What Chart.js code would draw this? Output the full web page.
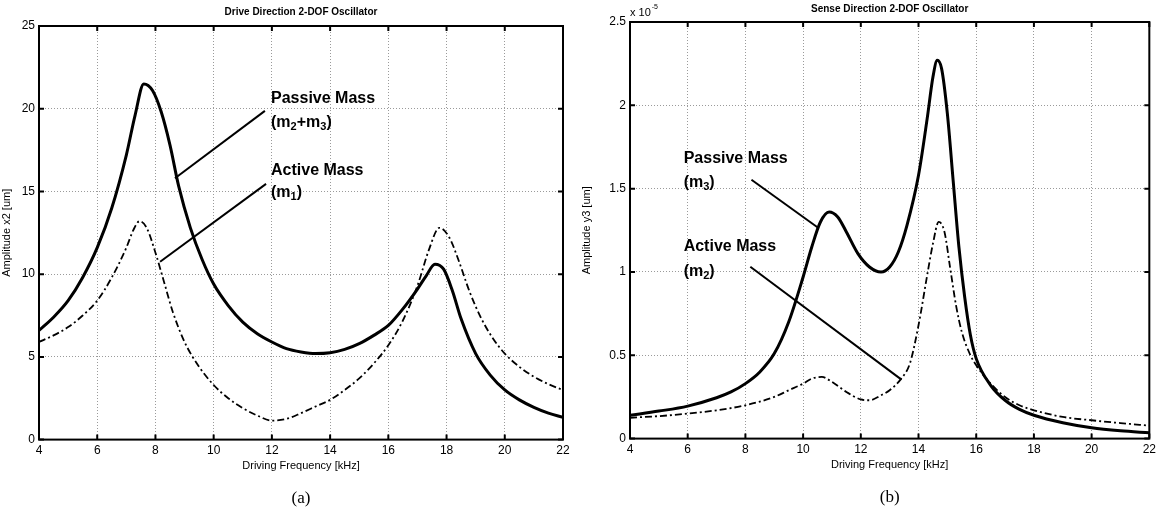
<!DOCTYPE html>
<html lang="en">
<head>
<meta charset="UTF-8">
<title>2-DOF Oscillator</title>
<script src="https://cdn.jsdelivr.net/npm/chart.js"></script>
<style>
  body { margin: 0; background: #fff; }
  .panel { position: absolute; top: 0; width: 580px; height: 516px; }
</style>
</head>
<body>
<div class="panel" style="left:0"><canvas id="driveChart"></canvas></div>
<div class="panel" style="left:580px"><canvas id="senseChart"></canvas></div>
<script>
// (a) drive direction, amplitude x2 [um]
const driveFreqPassive = [4, 4.5, 5, 5.5, 6, 6.5, 7, 7.3, 7.6, 7.9, 8.2, 8.5, 8.8, 9.2, 9.6, 10, 10.5, 11, 11.5, 12, 12.5, 13, 13.5, 14, 14.5, 15, 15.5, 16, 16.5, 17, 17.3, 17.6, 17.9, 18.2, 18.5, 19, 19.5, 20, 20.5, 21, 21.5, 22];
const drivePassive = [6.6, 7.4, 8.4, 9.8, 11.6, 14.0, 17.2, 19.6, 21.5, 21.1, 19.8, 17.8, 15.3, 12.8, 10.9, 9.4, 8.1, 7.1, 6.4, 5.9, 5.5, 5.3, 5.2, 5.25, 5.45, 5.8, 6.3, 6.9, 7.9, 9.1, 9.9, 10.6, 10.3, 9.0, 7.3, 5.2, 3.9, 3.0, 2.4, 1.95, 1.6, 1.35];
const driveFreqActive = [4, 4.5, 5, 5.5, 6, 6.5, 7, 7.25, 7.45, 7.7, 8, 8.3, 8.6, 9, 9.5, 10, 10.5, 11, 11.5, 12, 12.5, 13, 13.5, 14, 14.5, 15, 15.5, 16, 16.5, 17, 17.4, 17.75, 18.1, 18.4, 18.8, 19.2, 19.6, 20, 20.5, 21, 21.5, 22];
const driveActive = [5.9, 6.3, 6.8, 7.5, 8.4, 9.8, 11.6, 12.7, 13.2, 12.8, 11.3, 9.5, 7.7, 5.9, 4.4, 3.3, 2.5, 1.9, 1.45, 1.15, 1.25, 1.6, 2.0, 2.4, 3.0, 3.7, 4.6, 5.7, 7.2, 9.3, 11.5, 12.8, 12.2, 10.9, 8.9, 7.3, 6.1, 5.2, 4.4, 3.8, 3.35, 3.0];

// (b) sense direction, amplitude y3 [um], in units of 1e-5
const senseFreqPassive = [4, 5, 6, 7, 7.5, 8, 8.5, 9, 9.5, 10, 10.3, 10.6, 10.9, 11.2, 11.5, 11.9, 12.3, 12.7, 13, 13.3, 13.6, 14, 14.3, 14.5, 14.65, 14.8, 15, 15.2, 15.4, 15.6, 15.8, 16, 16.5, 17, 17.5, 18, 19, 20, 21, 22];
const sensePassive = [0.14, 0.165, 0.195, 0.245, 0.28, 0.33, 0.40, 0.51, 0.70, 0.97, 1.15, 1.30, 1.36, 1.33, 1.24, 1.11, 1.03, 1.0, 1.03, 1.12, 1.28, 1.58, 1.92, 2.17, 2.27, 2.22, 1.95, 1.55, 1.15, 0.85, 0.62, 0.48, 0.32, 0.23, 0.175, 0.14, 0.095, 0.065, 0.047, 0.035];
const senseFreqActive = [4, 5, 6, 7, 8, 9, 9.5, 10, 10.3, 10.65, 11, 11.5, 12, 12.3, 12.7, 13, 13.4, 13.7, 14, 14.3, 14.5, 14.7, 14.9, 15.1, 15.3, 15.5, 15.8, 16, 16.5, 17, 17.5, 18, 19, 20, 21, 22];
const senseActive = [0.125, 0.135, 0.15, 0.17, 0.2, 0.25, 0.29, 0.33, 0.36, 0.37, 0.34, 0.28, 0.235, 0.23, 0.26, 0.29, 0.36, 0.45, 0.68, 0.98, 1.17, 1.3, 1.24, 1.02, 0.80, 0.64, 0.50, 0.44, 0.33, 0.25, 0.2, 0.17, 0.13, 0.11, 0.093, 0.078];

// callout lines [x1, y1, x2, y2] and labels, in data units
const driveCalloutLines = [[8.67, 15.8, 11.76, 19.87], [8.16, 10.75, 11.8, 15.46]];
const driveCalloutLabels = [
  { x: 11.97, y: 20.59, parts: [['Passive Mass']] },
  { x: 11.97, y: 19.14, parts: [['(m'], ['2', 'sub'], ['+m'], ['3', 'sub'], [')']] },
  { x: 11.97, y: 16.24, parts: [['Active Mass']] },
  { x: 11.97, y: 14.92, parts: [['(m'], ['1', 'sub'], [')']] }
];
const senseCalloutLines = [[8.21, 1.553, 10.52, 1.265], [8.17, 1.031, 13.41, 0.354]];
const senseCalloutLabels = [
  { x: 5.86, y: 1.679, parts: [['Passive Mass']] },
  { x: 5.86, y: 1.535, parts: [['(m'], ['3', 'sub'], [')']] },
  { x: 5.86, y: 1.151, parts: [['Active Mass']] },
  { x: 5.86, y: 1.001, parts: [['(m'], ['2', 'sub'], [')']] }
];

const SANS = "'Liberation Sans', Arial, sans-serif";
const SERIF = "'Liberation Serif', 'Times New Roman', serif";

function toPoints(xs, ys) {
  return xs.map((x, i) => ({ x: x, y: ys[i] }));
}

// box round the plot with inward ticks on all four sides
const framePlugin = {
  id: 'frame',
  afterDraw(chart, args, opts) {
    const { ctx, chartArea: a, scales: { x, y } } = chart;
    ctx.save();
    ctx.strokeStyle = '#000';
    ctx.lineWidth = 2;
    ctx.strokeRect(a.left, a.top, a.width, a.height);
    const len = 5;
    ctx.beginPath();
    x.ticks.forEach(t => {
      const px = x.getPixelForValue(t.value);
      ctx.moveTo(px, a.bottom); ctx.lineTo(px, a.bottom - len);
      ctx.moveTo(px, a.top); ctx.lineTo(px, a.top + len);
    });
    y.ticks.forEach(t => {
      const py = y.getPixelForValue(t.value);
      ctx.moveTo(a.left, py); ctx.lineTo(a.left + len, py);
      ctx.moveTo(a.right, py); ctx.lineTo(a.right - len, py);
    });
    ctx.stroke();
    if (opts.exponent) {
      ctx.fillStyle = '#000';
      ctx.textBaseline = 'middle';
      ctx.font = '11px ' + SANS;
      ctx.fillText('x 10', a.left, a.top - 9);
      const w = ctx.measureText('x 10').width;
      ctx.font = '7px ' + SANS;
      ctx.fillText(opts.exponent, a.left + w + 1, a.top - 15);
    }
    ctx.restore();
  }
};

// label lines and bold text with subscripts
const calloutPlugin = {
  id: 'callouts',
  afterDatasetsDraw(chart, args, opts) {
    const { ctx, scales: { x, y } } = chart;
    ctx.save();
    ctx.strokeStyle = '#000';
    ctx.lineWidth = 2;
    opts.lines.forEach(l => {
      ctx.beginPath();
      ctx.moveTo(x.getPixelForValue(l[0]), y.getPixelForValue(l[1]));
      ctx.lineTo(x.getPixelForValue(l[2]), y.getPixelForValue(l[3]));
      ctx.stroke();
    });
    ctx.fillStyle = '#000';
    ctx.textBaseline = 'middle';
    opts.labels.forEach(lb => {
      let px = x.getPixelForValue(lb.x);
      const py = y.getPixelForValue(lb.y);
      lb.parts.forEach(p => {
        const sub = p[1] === 'sub';
        ctx.font = 'bold ' + (sub ? 11 : 16) + 'px ' + SANS;
        ctx.fillText(p[0], px, sub ? py + 4 : py);
        px += ctx.measureText(p[0]).width;
      });
    });
    ctx.restore();
  }
};

function makeChart(id, cfg) {
  const ctx = document.getElementById(id).getContext('2d');
  return new Chart(ctx, {
    type: 'line',
    data: {
      datasets: [{
        label: 'Passive Mass',
        data: cfg.passive,
        borderColor: '#000',
        borderWidth: 3,
        pointRadius: 0,
        cubicInterpolationMode: 'monotone',
        fill: false
      }, {
        label: 'Active Mass',
        data: cfg.active,
        borderColor: '#000',
        borderWidth: 1.8,
        borderDash: [7, 3, 2, 3],
        pointRadius: 0,
        cubicInterpolationMode: 'monotone',
        fill: false
      }]
    },
    options: {
      responsive: true,
      maintainAspectRatio: false,
      animation: false,
      layout: { padding: { left: 0, right: cfg.padRight, top: 0, bottom: 0 } },
      plugins: {
        legend: { display: false },
        tooltip: { enabled: false },
        title: {
          display: true, text: cfg.title, fullSize: false, color: '#000',
          font: { family: SANS, size: 10, weight: 'bold', lineHeight: 1.2 },
          padding: cfg.titlePad
        },
        subtitle: {
          display: true, position: 'bottom', text: cfg.caption, fullSize: false, color: '#000',
          font: { family: SERIF, size: 17, lineHeight: 1.2 },
          padding: cfg.captionPad
        },
        callouts: { lines: cfg.lines, labels: cfg.labels },
        frame: { exponent: cfg.exponent }
      },
      scales: {
        x: {
          type: 'linear', min: 4, max: 22,
          afterFit: s => { s.height = 36; },
          ticks: { stepSize: 2, color: '#000', padding: 4, maxRotation: 0, autoSkip: false,
                   font: { family: SANS, size: 12 } },
          grid: { color: '#9a9a9a', lineWidth: 1, drawTicks: false },
          border: { display: false, dash: [1, 2] },
          title: { display: true, text: 'Driving Frequency [kHz]', color: '#000',
                   font: { family: SANS, size: 11 }, padding: { top: 0, bottom: 3 } }
        },
        y: {
          min: 0, max: cfg.yMax,
          afterFit: s => { s.width = cfg.yWidth; },
          ticks: { stepSize: cfg.yStep, color: '#000', padding: 4,
                   font: { family: SANS, size: 12 },
                   callback: v => String(Number(v.toFixed(2))) },
          grid: { color: '#9a9a9a', lineWidth: 1, drawTicks: false },
          border: { display: false, dash: [1, 2] },
          title: { display: true, text: cfg.yTitle, color: '#000',
                   font: { family: SANS, size: 11 }, padding: { top: 0, bottom: 0 } }
        }
      }
    },
    plugins: [calloutPlugin, framePlugin]
  });
}

makeChart('driveChart', {
  title: 'Drive Direction 2-DOF Oscillator',
  titlePad: { top: 6, bottom: 8 },
  caption: '(a)',
  captionPad: { top: 13, bottom: 7 },
  yTitle: 'Amplitude x2 [um]',
  yMax: 25, yStep: 5, yWidth: 39, padRight: 17,
  passive: toPoints(driveFreqPassive, drivePassive),
  active: toPoints(driveFreqActive, driveActive),
  lines: driveCalloutLines, labels: driveCalloutLabels
});

makeChart('senseChart', {
  title: 'Sense Direction 2-DOF Oscillator',
  titlePad: { top: 3, bottom: 7 },
  caption: '(b)',
  captionPad: { top: 13, bottom: 8 },
  yTitle: 'Amplitude y3 [um]',
  yMax: 2.5, yStep: 0.5, yWidth: 50, padRight: 8,
  exponent: '-5',
  passive: toPoints(senseFreqPassive, sensePassive),
  active: toPoints(senseFreqActive, senseActive),
  lines: senseCalloutLines, labels: senseCalloutLabels
});
</script>
</body>
</html>
